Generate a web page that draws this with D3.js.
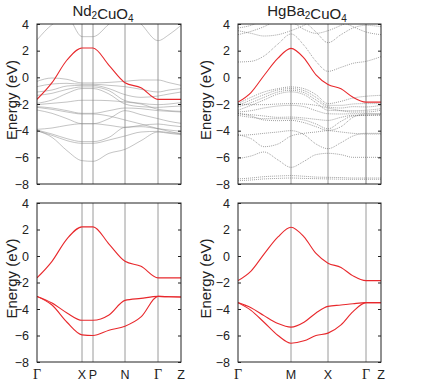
<!DOCTYPE html>
<html>
<head>
<meta charset="utf-8">
<script src="https://cdn.jsdelivr.net/npm/d3@7"></script>
<style>
  body { margin: 0; background: #fff; }
  svg { font-family: "Liberation Sans", Arial, sans-serif; }
</style>
</head>
<body>
<svg id="chart" width="436" height="383"></svg>
<script>
// ---- Nd2CuO4 : path G-X-P-N-G-Z ----
const ndK = [0, 15, 30, 45, 56, 72, 88, 104, 121, 132, 144];
const ndSymK = [0, 45, 56, 88, 121, 144];
const ndSymLabels = ["Γ", "X", "P", "N", "Γ", "Z"];

// three-band model (red); the first one is also drawn over the DFT bands
const ndRed = [
  [-1.65, -0.4, 1.3, 2.2, 2.2, 0.9, -0.4, -0.78, -1.65, -1.65, -1.65],
  [-3.05, -3.55, -4.3, -4.85, -4.85, -4.45, -3.35, -3.2, -3.05, -3.08, -3.1],
  [-3.05, -3.7, -5.0, -5.95, -6.0, -5.6, -5.3, -4.6, -3.05, -3.08, -3.1]
];

// full DFT bands (grey)
const ndGrey = [
  [2.8, 3.95, 4.5, 3.05, 3.05, 4.0, 5.0, 4.0, 2.75, 3.2, 3.9],
  [-0.3, -0.05, -0.15, -0.42, -0.42, -0.38, -0.3, -0.2, -0.2, -0.4, -0.6],
  [-0.7, -0.5, -0.45, -0.52, -0.52, -0.6, -0.7, -0.9, -1.1, -0.95, -0.85],
  [-1.1, -0.95, -0.65, -0.6, -0.6, -0.85, -1.3, -1.5, -1.4, -1.25, -1.1],
  [-1.35, -1.2, -0.9, -0.72, -0.72, -1.0, -1.75, -1.95, -2.05, -2.0, -1.9],
  [-1.95, -1.7, -1.2, -0.84, -0.84, -1.25, -2.0, -2.2, -2.25, -2.2, -2.15],
  [-2.05, -1.95, -1.85, -1.72, -1.72, -1.75, -1.85, -2.0, -2.4, -2.5, -2.55],
  [-2.2, -2.3, -2.5, -2.7, -2.7, -2.5, -2.3, -2.35, -2.5, -2.55, -2.6],
  [-2.45, -2.7, -3.1, -3.48, -3.48, -3.1, -2.5, -2.8, -3.1, -3.3, -3.45],
  [-2.25, -2.4, -2.6, -2.75, -2.75, -2.9, -3.2, -3.5, -3.85, -4.05, -4.25],
  [-3.9, -3.8, -3.6, -3.48, -3.48, -3.6, -3.75, -3.6, -3.5, -3.6, -3.7],
  [-3.95, -4.25, -4.6, -4.82, -4.82, -4.5, -3.75, -3.7, -3.85, -3.95, -4.05],
  [-4.0, -4.35, -4.75, -4.95, -4.95, -4.7, -4.4, -4.1, -4.05, -4.15, -4.2],
  [-4.0, -4.5, -5.5, -6.25, -6.3, -5.7, -5.4, -4.75, -4.1, -4.2, -4.3]
];

// ---- HgBa2CuO4 : path G-M-X-G-Z ----
const hgK = [0, 13, 26, 40, 53, 66, 78, 90, 103, 115, 128, 143];
const hgSymK = [0, 53, 90, 128, 143];
const hgSymLabels = ["Γ", "M", "X", "Γ", "Z"];

const hgRed = [
  [-1.86, -1.14, 0.14, 1.44, 2.17, 1.44, 0.19, -0.54, -0.86, -1.5, -1.86, -1.86],
  [-3.52, -3.9, -4.5, -5.1, -5.37, -5.0, -4.3, -3.8, -3.7, -3.6, -3.52, -3.52],
  [-3.52, -4.1, -5.0, -6.0, -6.58, -6.4, -6.0, -5.82, -5.2, -4.2, -3.52, -3.52]
];

const hgGrey = [
  [1.15, 1.2, 1.6, 2.5, 3.25, 2.4, 1.2, 0.45, 0.75, 1.05, 1.2, 1.55],
  [3.5, 3.3, 3.1, 3.2, 3.5, 3.9, 4.4, 4.6, 4.2, 3.8, 3.4, 3.2],
  [3.2, 3.45, 3.8, 4.3, 4.6, 4.2, 3.4, 2.6, 3.2, 3.7, 3.9, 3.8],
  [3.7, 3.9, 4.3, 4.5, 4.2, 3.6, 3.3, 3.5, 3.9, 4.3, 4.6, 4.8],
  [-1.97, -1.5, -1.1, -0.85, -0.72, -0.85, -1.3, -1.97, -1.8, -1.55, -1.42, -1.35],
  [-2.1, -1.7, -1.3, -0.95, -0.85, -1.0, -1.5, -2.1, -2.1, -2.0, -1.97, -1.97],
  [-2.22, -1.9, -1.5, -1.1, -0.97, -1.15, -1.7, -2.22, -2.3, -2.2, -2.22, -2.1],
  [-2.47, -2.1, -1.7, -1.25, -1.09, -1.3, -1.9, -2.47, -2.5, -2.5, -2.47, -2.35],
  [-2.0, -2.05, -2.05, -2.0, -1.97, -2.0, -2.1, -2.3, -2.5, -2.6, -2.6, -2.47],
  [-2.6, -2.5, -2.3, -2.15, -2.1, -2.2, -2.5, -2.73, -2.75, -2.73, -2.73, -2.73],
  [-2.73, -2.8, -2.9, -3.0, -2.98, -3.05, -3.15, -3.23, -3.0, -2.85, -2.85, -2.85],
  [-2.85, -3.0, -3.1, -3.1, -3.1, -3.2, -3.5, -3.86, -3.3, -2.9, -2.85, -2.8],
  [-2.7, -2.9, -3.2, -3.25, -3.23, -3.4, -3.7, -3.98, -3.7, -3.0, -2.75, -2.75],
  [-4.3, -4.6, -5.2, -5.0, -4.4, -4.2, -4.1, -4.0, -4.1, -4.2, -4.25, -4.25],
  [-4.35, -4.3, -4.2, -4.1, -4.0, -4.3, -5.0, -5.35, -4.9, -4.4, -4.2, -4.2],
  [-6.1, -5.9, -5.6, -6.2, -6.75, -6.3, -5.8, -5.7, -5.8, -6.0, -6.0, -6.0],
  [-7.62, -7.55, -7.45, -7.4, -7.37, -7.42, -7.48, -7.5, -7.52, -7.55, -7.55, -7.55],
  [-7.75, -7.7, -7.62, -7.58, -7.55, -7.58, -7.6, -7.62, -7.64, -7.65, -7.65, -7.65]
];

const yTicks = [4, 2, 0, -2, -4, -6, -8];

const svg = d3.select("#chart");

const panels = [
  {id: "ndT", x0: 37, x1: 181, y0: 24, y1: 184, k: ndK, sym: ndSymK, labels: null, red: ndRed.slice(0, 1), grey: ndGrey, dotted: false, yLabX: 12},
  {id: "ndB", x0: 37, x1: 181, y0: 203, y1: 362, k: ndK, sym: ndSymK, labels: ndSymLabels, red: ndRed, grey: [], dotted: false, yLabX: 12},
  {id: "hgT", x0: 238, x1: 381, y0: 24, y1: 184, k: hgK, sym: hgSymK, labels: null, red: hgRed.slice(0, 1), grey: hgGrey, dotted: true, yLabX: 206, thickG: true},
  {id: "hgB", x0: 238, x1: 381, y0: 203, y1: 362, k: hgK, sym: hgSymK, labels: hgSymLabels, red: hgRed, grey: [], dotted: false, yLabX: 206}
];

panels.forEach(drawPanel);

function drawPanel(p) {
  const x = d3.scaleLinear().domain([0, d3.max(p.k)]).range([p.x0, p.x1]);
  const y = d3.scaleLinear().domain([-8, 4]).range([p.y1, p.y0]);
  const g = svg.append("g");

  g.append("clipPath").attr("id", "clip-" + p.id)
    .append("rect").attr("x", p.x0).attr("y", p.y0)
    .attr("width", p.x1 - p.x0).attr("height", p.y1 - p.y0);

  // high-symmetry vertical lines
  g.append("g").selectAll("line")
    .data(p.sym.slice(1, -1))
    .join("line")
    .attr("x1", d => x(d)).attr("x2", d => x(d))
    .attr("y1", p.y0).attr("y2", p.y1)
    .attr("stroke", (d, i) => (p.thickG && i === p.sym.length - 3) ? "#bdbdbd" : "#9a9a9a")
    .attr("stroke-width", (d, i) => (p.thickG && i === p.sym.length - 3) ? 2 : 1);

  const line = d3.line()
    .x((d, i) => x(p.k[i]))
    .y(d => y(d))
    .curve(d3.curveMonotoneX);

  const bands = g.append("g").attr("clip-path", `url(#clip-${p.id})`);

  bands.selectAll("path.grey")
    .data(p.grey)
    .join("path")
    .attr("class", "grey")
    .attr("d", line)
    .attr("fill", "none")
    .attr("stroke", p.dotted ? "#666" : "#8a8a8a")
    .attr("stroke-width", p.dotted ? 0.8 : 0.6)
    .attr("stroke-dasharray", p.dotted ? "0.9,1.1" : null)
    .attr("opacity", 0.85);

  bands.selectAll("path.red")
    .data(p.red)
    .join("path")
    .attr("class", "red")
    .attr("d", line)
    .attr("fill", "none")
    .attr("stroke", "#e8282c")
    .attr("stroke-width", 1.1);

  // frame
  g.append("rect")
    .attr("x", p.x0).attr("y", p.y0)
    .attr("width", p.x1 - p.x0).attr("height", p.y1 - p.y0)
    .attr("fill", "none").attr("stroke", "#222").attr("stroke-width", 1);

  // y axes, ticks inside
  const left = g.append("g").attr("transform", `translate(${p.x0},0)`)
    .call(d3.axisLeft(y).tickValues(yTicks).tickSize(-3).tickPadding(8).tickFormat(d3.format("d")));
  left.select(".domain").remove();
  left.selectAll("line").attr("stroke", "#222");
  left.selectAll("text").attr("font-size", 12.5).attr("fill", "#222")
    .attr("font-family", "Liberation Sans, Arial, sans-serif");

  const right = g.append("g").attr("transform", `translate(${p.x1},0)`)
    .call(d3.axisRight(y).tickValues(yTicks).tickSize(-3).tickFormat(""));
  right.select(".domain").remove();
  right.selectAll("line").attr("stroke", "#222");

  // y label
  g.append("text")
    .attr("transform", `translate(${p.yLabX},${(p.y0 + p.y1) / 2 - 4}) rotate(-90)`)
    .attr("text-anchor", "middle")
    .attr("dy", "0.35em")
    .attr("font-size", 15)
    .attr("fill", "#222")
    .text("Energy (eV)");

  // k-point labels
  if (p.labels) {
    g.append("g").selectAll("text")
      .data(p.sym)
      .join("text")
      .attr("x", d => x(d))
      .attr("y", p.y1 + 17)
      .attr("text-anchor", "middle")
      .attr("font-size", (d, i) => p.labels[i] === "Γ" ? 14 : 12.5)
      .attr("fill", "#222")
      .attr("font-family", (d, i) => p.labels[i] === "Γ" ? "Liberation Serif, Times New Roman, serif" : null)
      .text((d, i) => p.labels[i]);
  }
}

// titles with subscripts
function title(cx, parts) {
  const t = svg.append("text")
    .attr("x", cx).attr("y", 16)
    .attr("text-anchor", "middle")
    .attr("font-size", 15)
    .attr("fill", "#222");
  parts.forEach(([s, sub]) => {
    t.append("tspan")
      .attr("font-size", sub ? 10 : 15)
      .attr("dy", sub ? 3 : 0)
      .text(s);
    if (sub) t.append("tspan").attr("dy", -3).text("");
  });
}
title(103, [["Nd", false], ["2", true], ["CuO", false], ["4", true]]);
title(307, [["HgBa", false], ["2", true], ["CuO", false], ["4", true]]);
</script>
</body>
</html>
